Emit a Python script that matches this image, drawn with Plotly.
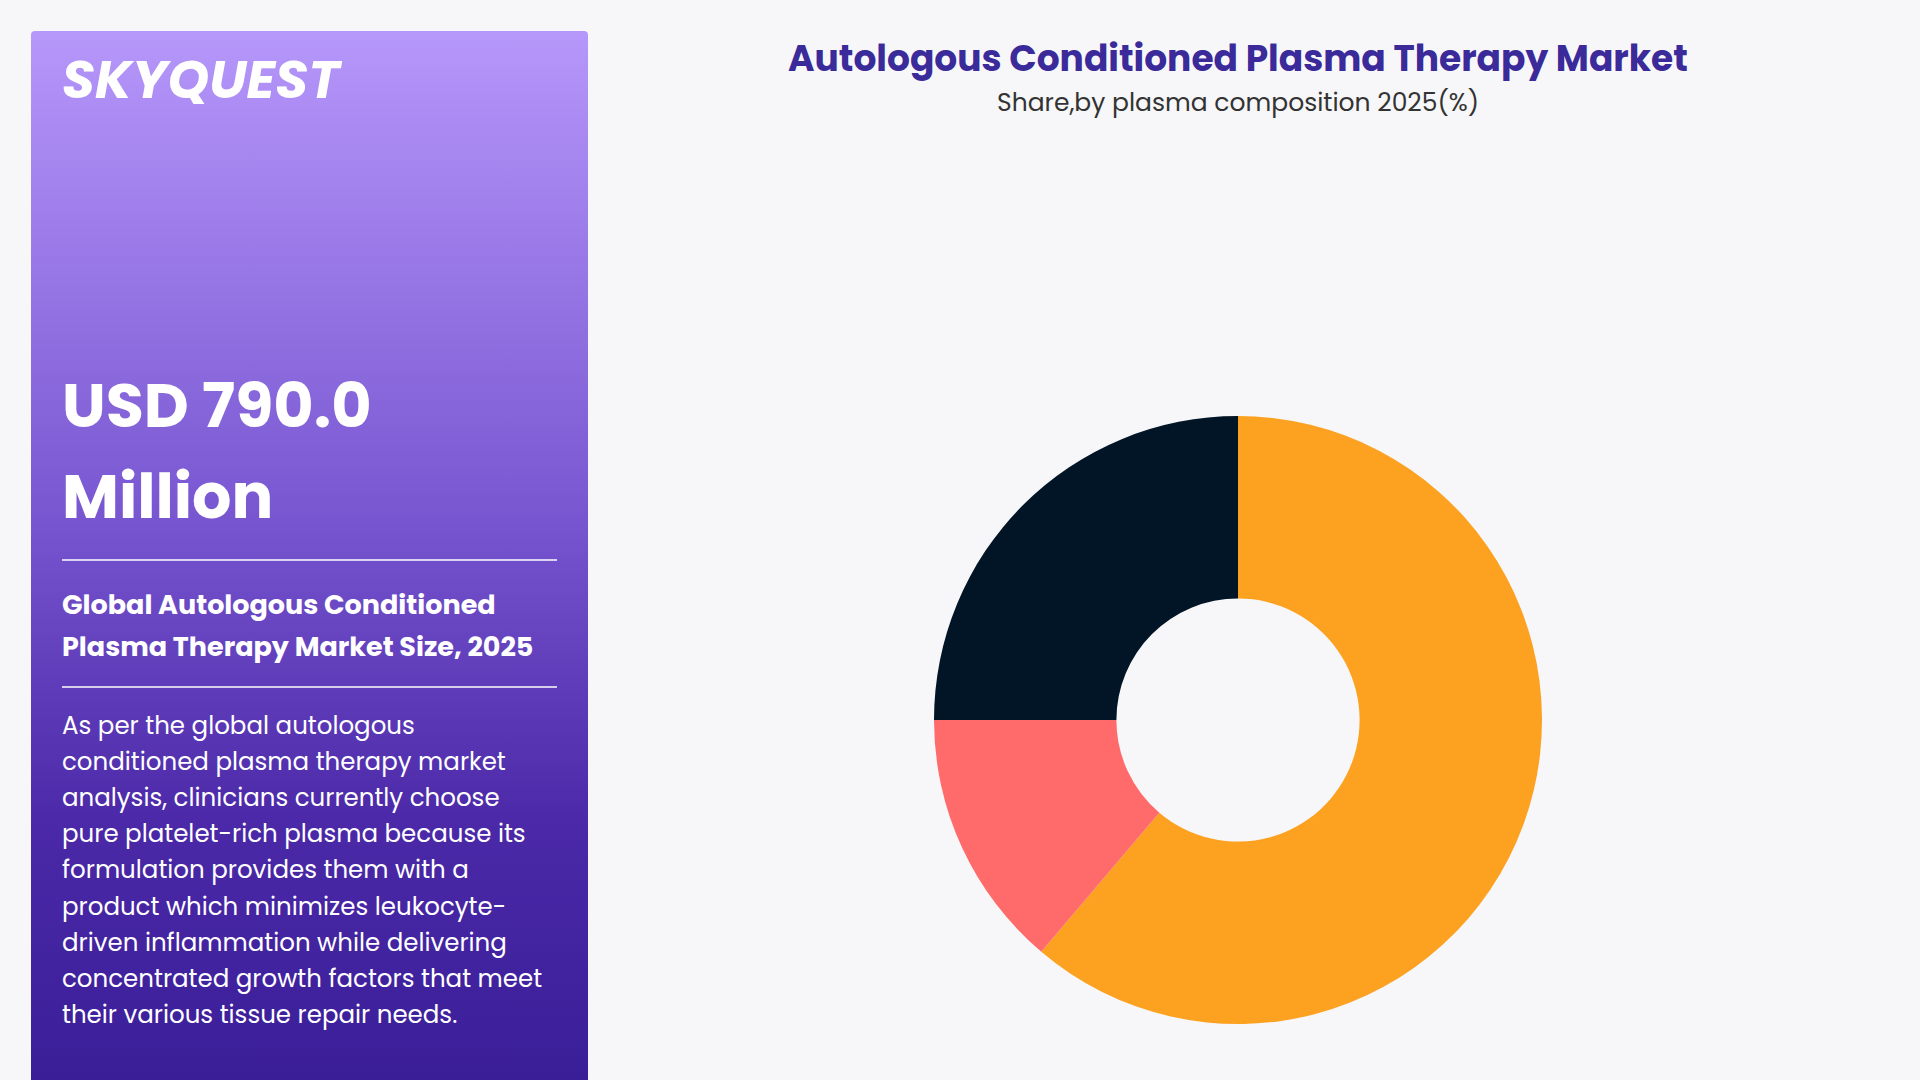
import base64
import plotly.graph_objects as go

labels = ["Pure Platelet-Rich Plasma", "Leukocyte-Rich Plasma", "Other Compositions"]
values = [61.2, 13.8, 25.0]
colors = ["#fca120", "#ff6b6b", "#021526"]

title = "Autologous Conditioned Plasma Therapy Market"
subtitle = "Share,by plasma composition 2025(%)"
big_value = ["USD 790.0", "Million"]
panel_sub = ["Global Autologous Conditioned", "Plasma Therapy Market Size, 2025"]
para = ["As per the global autologous",
        "conditioned plasma therapy market",
        "analysis, clinicians currently choose",
        "pure platelet-rich plasma because its",
        "formulation provides them with a",
        "product which minimizes leukocyte-",
        "driven inflammation while delivering",
        "concentrated growth factors that meet",
        "their various tissue repair needs."]

W, H = 1920, 1080
def px(x): return x / W
def py(y): return 1 - y / H

svg = ('<svg xmlns="http://www.w3.org/2000/svg" width="557" height="1049" viewBox="0 0 557 1049">'
       '<defs><linearGradient id="g" x1="0" y1="0" x2="0" y2="1">'
       '<stop offset="0" stop-color="#b697fa"/><stop offset="0.45" stop-color="#7a58d2"/>'
       '<stop offset="0.75" stop-color="#4b29a8"/><stop offset="1" stop-color="#3a1e98"/></linearGradient></defs>'
       '<path d="M4 0 H553 Q557 0 557 4 V1049 H0 V4 Q0 0 4 0 Z" fill="url(#g)"/></svg>')
src = "data:image/svg+xml;base64," + base64.b64encode(svg.encode()).decode()

fig = go.Figure(go.Pie(labels=labels, values=values, hole=0.4, sort=False, direction="clockwise",
                       rotation=0, marker=dict(colors=colors), textinfo="none", hoverinfo="label+percent",
                       domain=dict(x=[px(930), px(1546)], y=[1 - 1024 / H, 1 - 416 / H])))

ann = []
F = "Poppins, Lato, Open Sans, sans-serif"
def t(x, y, s, size, color="white", bold=False, xa="left", italic=False):
    txt = f"<b>{s}</b>" if bold else s
    if italic: txt = f"<i>{txt}</i>"
    ann.append(dict(x=px(x), y=py(y), xref="paper", yref="paper", text=txt, showarrow=False,
                    xanchor=xa, yanchor="middle", font=dict(family=F, size=size, color=color)))

t(60, 79, "SKYQUEST", 53, bold=True, italic=True)
t(60, 405, big_value[0], 62, bold=True)
t(60, 496, big_value[1], 62, bold=True)
t(60, 604, panel_sub[0], 27, bold=True)
t(60, 646, panel_sub[1], 27, bold=True)
for i, line in enumerate(para):
    t(60, 725 + i * 36.2, line, 24.5)
t(1238, 59, title, 36, color="#3b2a9a", bold=True, xa="center")
t(1238, 103, subtitle, 25, color="#333333", xa="center")

shapes = [dict(type="line", xref="paper", yref="paper", x0=px(62), x1=px(557), y0=py(y), y1=py(y),
               line=dict(color="white", width=1.5)) for y in (560, 687)]

fig.update_layout(width=W, height=H, margin=dict(l=0, r=0, t=0, b=0), showlegend=False,
                  paper_bgcolor="#f7f7f9", plot_bgcolor="#f7f7f9", annotations=ann, shapes=shapes,
                  images=[dict(source=src, xref="paper", yref="paper", x=px(31), y=py(31),
                               sizex=557 / W, sizey=1049 / H, xanchor="left", yanchor="top",
                               sizing="stretch", layer="below")])
fig.write_html("out.html", config={"displayModeBar": False})
with open("out.html", encoding="utf-8") as f:
    html = f.read()
html = html.replace("<head>", "<head><style>html,body{margin:0;padding:0;overflow:hidden;background:#f7f7f9}</style>", 1)
with open("out.html", "w", encoding="utf-8") as f:
    f.write(html)
